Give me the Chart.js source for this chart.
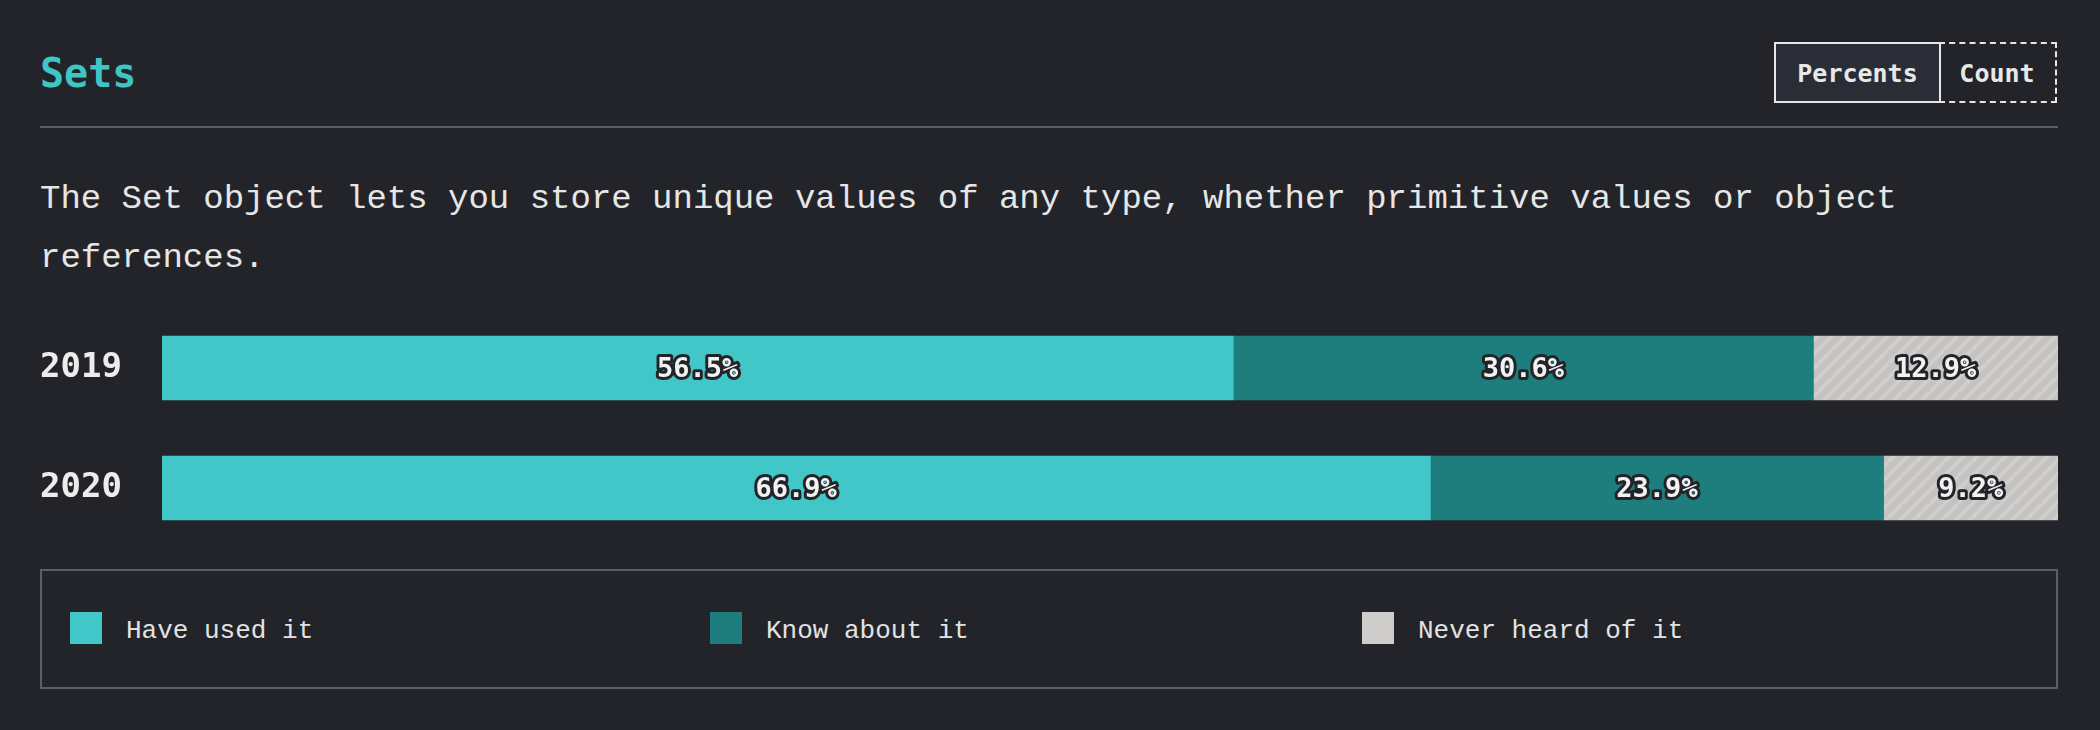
<!DOCTYPE html>
<html>
<head>
<meta charset="utf-8">
<script src="https://cdn.jsdelivr.net/npm/chart.js@4"></script>
<style>
  html, body { margin: 0; padding: 0; background: #232429; }
  body { width: 2100px; height: 730px; position: relative; overflow: hidden; }
  #title { position: absolute; left: 40px; top: 50px; line-height: 48px; font: bold 40px "DejaVu Sans Mono", monospace; color: #3ec6c6; }
  #sep { position: absolute; left: 40px; top: 126px; width: 2018px; height: 2px; background: #5b5e65; }
  .btn { position: absolute; top: 42px; height: 57px; box-sizing: content-box; border: 2px solid #e6e6e6; color: #e8e8e8;
         font: bold 25px "DejaVu Sans Mono", monospace; line-height: 59px; text-align: center; }
  #bPct { left: 1774px; width: 163px; background: #2a2d36; }
  #bCnt { left: 1939px; width: 116px; border-style: dashed; border-left: none; }
  #desc { position: absolute; left: 40px; top: 170px; width: 2020px; font: 34px "Liberation Mono", monospace; line-height: 59px; color: #e6e6e6; }
  #chartWrap { position: absolute; left: 40px; top: 308px; width: 2018px; height: 240px; }
  #legend { position: absolute; left: 40px; top: 569px; width: 2014px; height: 116px; border: 2px solid #5b5e65; }
  .li { position: absolute; top: 41px; height: 32px; display: flex; align-items: center; }
  .sw { width: 32px; height: 32px; margin-right: 24px; }
  .lt { font: 26px "Liberation Mono", monospace; color: #e2e2e2; white-space: pre; position: relative; top: 3px; }
</style>
</head>
<body>
<div id="title">Sets</div>
<div class="btn" id="bPct">Percents</div>
<div class="btn" id="bCnt">Count</div>
<div id="sep"></div>
<div id="desc">The Set object lets you store unique values of any type, whether primitive values or object references.</div>
<div id="chartWrap"><canvas id="c" width="2018" height="240"></canvas></div>
<div id="legend"></div>
<script>
// ---- data ----
const years = ["2019", "2020"];
const seriesNames = ["Have used it", "Know about it", "Never heard of it"];
const haveUsed = [56.5, 66.9];
const knowAbout = [30.6, 23.9];
const neverHeard = [12.9, 9.2];

// ---- styles ----
const colors = ["#42c7c9", "#1d7e7d", "#cfcdcb"];
const legendLeft = [28, 668, 1320];

function stripePattern() {
  const s = 14;
  const cv = document.createElement('canvas');
  cv.width = s; cv.height = s;
  const g = cv.getContext('2d');
  g.fillStyle = '#c5c3c1';
  g.fillRect(0, 0, s, s);
  g.strokeStyle = '#d1cfcd';
  g.lineWidth = 4;
  for (let k = -1; k <= 1; k++) {
    g.beginPath();
    g.moveTo(k * s, s);
    g.lineTo(k * s + s, 0);
    g.stroke();
  }
  return g.createPattern(cv, 'repeat');
}

const ctx = document.getElementById('c').getContext('2d');
const fills = [colors[0], colors[1], stripePattern()];
const values = [haveUsed, knowAbout, neverHeard];

const labelPlugin = {
  id: 'segLabels',
  afterDatasetsDraw(chart) {
    const c = chart.ctx;
    c.save();
    c.font = 'bold 27px "DejaVu Sans Mono", monospace';
    c.textAlign = 'center';
    c.textBaseline = 'middle';
    c.lineJoin = 'round';
    chart.data.datasets.forEach((ds, i) => {
      const meta = chart.getDatasetMeta(i);
      meta.data.forEach((el, j) => {
        const p = el.getProps(['x', 'y', 'base'], true);
        const cx = (p.x + p.base) / 2;
        const txt = ds.data[j].toFixed(1) + '%';
        c.lineWidth = 6;
        c.strokeStyle = '#232429';
        c.strokeText(txt, cx, p.y + 2);
        c.fillStyle = '#f2f2f2';
        c.fillText(txt, cx, p.y + 2);
      });
    });
    c.restore();
  }
};

new Chart(ctx, {
  type: 'bar',
  data: {
    labels: years,
    datasets: seriesNames.map((n, i) => ({
      label: n,
      data: values[i],
      backgroundColor: fills[i],
      borderWidth: 0,
      barThickness: 64
    }))
  },
  options: {
    indexAxis: 'y',
    responsive: false,
    animation: false,
    devicePixelRatio: 1,
    layout: { padding: 0 },
    plugins: { legend: { display: false }, tooltip: { enabled: false } },
    scales: {
      x: { stacked: true, min: 0, max: 100, display: false },
      y: {
        stacked: true,
        grid: { display: false },
        border: { display: false },
        ticks: {
          color: '#ececec',
          font: { family: '"DejaVu Sans Mono", monospace', weight: 'bold', size: 34 },
          crossAlign: 'far',
          padding: 0
        },
        afterFit(scale) {
          scale.width = 122;
          scale.paddingTop = 0;
          scale.paddingBottom = 0;
        }
      }
    }
  },
  plugins: [labelPlugin]
});

// ---- HTML legend ----
const lg = document.getElementById('legend');
seriesNames.forEach((n, i) => {
  const it = document.createElement('div');
  it.className = 'li';
  it.style.left = legendLeft[i] + 'px';
  const sw = document.createElement('div');
  sw.className = 'sw';
  sw.style.background = colors[i];
  const t = document.createElement('span');
  t.className = 'lt';
  t.textContent = n;
  it.appendChild(sw); it.appendChild(t);
  lg.appendChild(it);
});
</script>
</body>
</html>
